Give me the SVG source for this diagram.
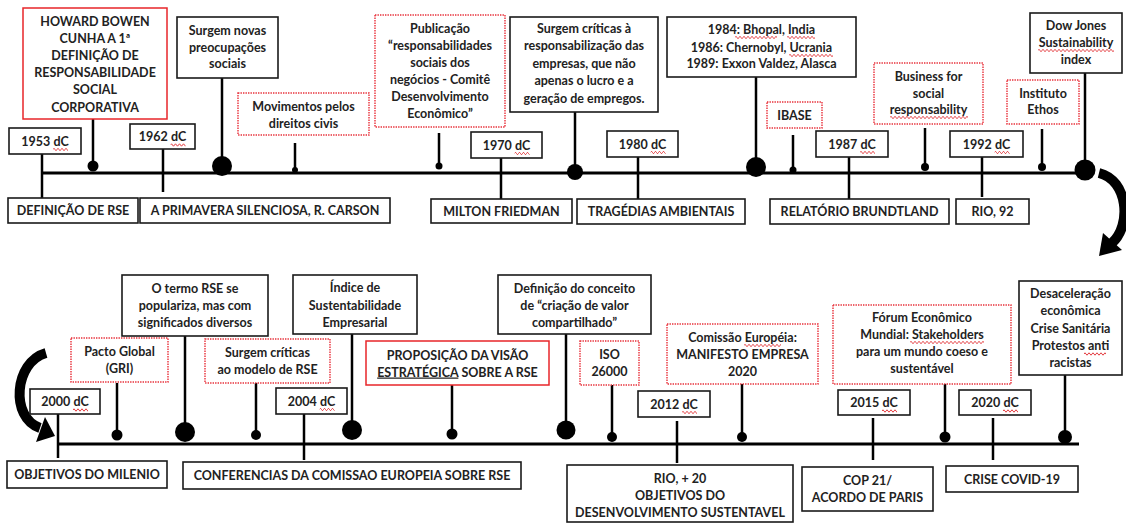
<svg xmlns="http://www.w3.org/2000/svg" xmlns:xlink="http://www.w3.org/1999/xlink" width="1126" height="524" viewBox="0 0 1126 524">
<style>
.b{fill:#fff;stroke:#1a1a1a;stroke-width:1.6}
.r{fill:#fff;stroke:#e8262a;stroke-width:1.5}
.rd{fill:#fff;stroke:#e8303a;stroke-width:1.4;stroke-dasharray:1.4 1.1}
.t{font-family:Lato,"Liberation Sans",sans-serif;font-weight:700;font-size:12.5px;fill:#222;text-anchor:middle}
.u{text-decoration:underline}
.wv{fill:none;stroke:#e0262a;stroke-width:0.9}
.ln{stroke:#000;stroke-width:3;fill:none}
.st{stroke:#000;stroke-width:2.5;fill:none}
.d{fill:#000}
.arc{stroke:#000;stroke-width:10;fill:none}
</style>
<defs>
<path id="wvL" class="wv" d="M0,0 q1,-2.4 2,0 t2,0 t2,0 t2,0 t2,0 t2,0 t2,0 t2,0 t2,0 t2,0 t2,0 t2,0 t2,0 t2,0 t2,0 t2,0 t2,0 t2,0 t2,0 t2,0 t2,0 t2,0 t2,0 t2,0 t2,0 t2,0 t2,0 t2,0 t2,0 t2,0 t2,0 t2,0 t2,0 t2,0 t2,0 t2,0 t2,0 t2,0 t2,0 t2,0 t2,0 t2,0 t2,0 t2,0 t2,0 t2,0 t2,0 t2,0 t2,0 t2,0"/>
</defs>
<g id="connectors">
<line class="ln" x1="42" y1="173" x2="1085" y2="173"/>
<line class="ln" x1="58" y1="444" x2="1079" y2="444"/>
<line class="st" x1="42" y1="154" x2="42" y2="198"/>
<line class="st" x1="93" y1="119" x2="93" y2="166"/><circle class="d" cx="93" cy="166" r="5.5"/>
<line class="st" x1="163" y1="149" x2="163" y2="192"/>
<line class="st" x1="222" y1="78" x2="222" y2="165"/><circle class="d" cx="222" cy="166" r="10"/>
<line class="st" x1="295" y1="143" x2="295" y2="170"/><circle class="d" cx="295" cy="170" r="3"/>
<line class="st" x1="439" y1="133" x2="439" y2="165"/><circle class="d" cx="439" cy="166" r="3.5"/>
<line class="st" x1="501" y1="158" x2="501" y2="199"/>
<line class="st" x1="575" y1="112" x2="575" y2="170"/><circle class="d" cx="575" cy="172" r="8"/>
<line class="st" x1="638" y1="157" x2="638" y2="199"/>
<line class="st" x1="756" y1="77" x2="756" y2="165"/><circle class="d" cx="756" cy="167" r="10"/>
<line class="st" x1="793" y1="135" x2="793" y2="170"/><circle class="d" cx="793" cy="170" r="3.5"/>
<line class="st" x1="849" y1="157" x2="849" y2="199"/>
<line class="st" x1="925" y1="128" x2="925" y2="167"/><circle class="d" cx="925" cy="167" r="4"/>
<line class="st" x1="982" y1="157" x2="982" y2="197"/>
<line class="st" x1="1042" y1="129" x2="1042" y2="167"/><circle class="d" cx="1042" cy="167" r="4"/>
<line class="st" x1="1085" y1="73" x2="1085" y2="165"/><circle class="d" cx="1085" cy="170" r="10.5"/>
<path class="arc" d="M1099,173 C1128,180 1132,225 1112,243"/>
<polygon class="d" points="1099,256 1103,233 1122,250"/>
<path class="arc" d="M46,353 C14,362 10,418 40,428"/>
<polygon class="d" points="55,436 45,417 36,442"/>
<line class="st" x1="58" y1="414" x2="58" y2="458"/>
<line class="st" x1="117" y1="383" x2="117" y2="435"/><circle class="d" cx="117" cy="435" r="5.5"/>
<line class="st" x1="185" y1="336" x2="185" y2="430"/><circle class="d" cx="185" cy="432" r="10"/>
<line class="st" x1="256" y1="383" x2="256" y2="435"/><circle class="d" cx="256" cy="435" r="5"/>
<line class="st" x1="304" y1="414" x2="304" y2="460"/>
<line class="st" x1="352" y1="334" x2="352" y2="428"/><circle class="d" cx="352" cy="430" r="10"/>
<line class="st" x1="452" y1="385" x2="452" y2="434"/><circle class="d" cx="452" cy="434" r="5.5"/>
<line class="st" x1="566" y1="334" x2="566" y2="428"/><circle class="d" cx="566" cy="430" r="9.5"/>
<line class="st" x1="612" y1="385" x2="612" y2="437"/><circle class="d" cx="612" cy="437" r="5"/>
<line class="st" x1="677" y1="421" x2="677" y2="463"/>
<line class="st" x1="742" y1="384" x2="742" y2="437"/><circle class="d" cx="742" cy="437" r="5"/>
<line class="st" x1="873" y1="418" x2="873" y2="460"/>
<line class="st" x1="945" y1="384" x2="945" y2="437"/><circle class="d" cx="945" cy="437" r="5.5"/>
<line class="st" x1="993" y1="418" x2="993" y2="460"/>
<line class="st" x1="1065" y1="375" x2="1065" y2="436"/><circle class="d" cx="1065" cy="437" r="7"/>
</g>
<g id="n1953"><rect class="b" x="9" y="128" width="72" height="26"/><text class="t" x="45" y="145.5">1953 dC</text><svg x="53" y="147" width="15" height="5"><use xlink:href="#wvL" href="#wvL" y="2.5"/></svg></g>
<g id="nDefRSE"><rect class="b" x="8" y="198" width="130" height="25"/><text class="t" x="73" y="215">DEFINIÇÃO DE RSE</text></g>
<g id="nBowen"><rect class="r" x="23" y="8" width="144" height="111"/><text class="t" x="95"><tspan x="95" y="25.5">HOWARD BOWEN</tspan><tspan x="95" y="42.7">CUNHA A 1ª</tspan><tspan x="95" y="59.9">DEFINIÇÃO DE</tspan><tspan x="95" y="77.1">RESPONSABILIDADE</tspan><tspan x="95" y="94.3">SOCIAL</tspan><tspan x="95" y="111.5">CORPORATIVA</tspan></text></g>
<g id="n1962"><rect class="b" x="130" y="124" width="65" height="25"/><text class="t" x="162.5" y="141">1962 dC</text><svg x="170.5" y="142.5" width="15" height="5"><use xlink:href="#wvL" href="#wvL" y="2.5"/></svg></g>
<g id="nPrimavera"><rect class="b" x="140" y="198" width="250" height="25"/><text class="t" x="265" y="215">A PRIMAVERA SILENCIOSA, R. CARSON</text></g>
<g id="nNovas"><rect class="b" x="177" y="17" width="101" height="61"/><text class="t"><tspan x="227.5" y="34.5">Surgem novas</tspan><tspan x="227.5" y="51.5">preocupações</tspan><tspan x="227.5" y="68">sociais</tspan></text></g>
<g id="nMovimentos"><rect class="rd" x="238" y="93" width="131" height="42"/><text class="t"><tspan x="303.5" y="110.5">Movimentos pelos</tspan><tspan x="303.5" y="127.5">direitos civis</tspan></text></g>
<g id="nPublicacao"><rect class="rd" x="375" y="15" width="130" height="112"/><text class="t"><tspan x="440" y="32.5">Publicação</tspan><tspan x="440" y="49.5">“responsabilidades</tspan><tspan x="440" y="67">sociais dos</tspan><tspan x="440" y="84">negócios - Comitê</tspan><tspan x="440" y="101">Desenvolvimento</tspan><tspan x="440" y="117.5">Econômico”</tspan></text></g>
<g id="n1970"><rect class="b" x="471" y="132" width="71" height="26"/><text class="t" x="506.5" y="149.5">1970 dC</text><svg x="514.5" y="151" width="15" height="5"><use xlink:href="#wvL" href="#wvL" y="2.5"/></svg></g>
<g id="nFriedman"><rect class="b" x="431" y="199" width="141" height="24"/><text class="t" x="501.5" y="215.5">MILTON FRIEDMAN</text></g>
<g id="nCriticas"><rect class="b" x="510" y="17" width="148" height="95"/><text class="t"><tspan x="584" y="32.5">Surgem críticas à</tspan><tspan x="584" y="50">responsabilização das</tspan><tspan x="584" y="67.5">empresas, que não</tspan><tspan x="584" y="85">apenas o lucro e a</tspan><tspan x="584" y="102.5">geração de empregos.</tspan></text></g>
<g id="n1980"><rect class="b" x="607" y="131" width="71" height="26"/><text class="t" x="642.5" y="148.5">1980 dC</text><svg x="650.5" y="150" width="15" height="5"><use xlink:href="#wvL" href="#wvL" y="2.5"/></svg></g>
<g id="nTragedias"><rect class="b" x="577" y="199" width="168" height="25"/><text class="t" x="661" y="216">TRAGÉDIAS AMBIENTAIS</text></g>
<g id="n1984"><rect class="b" x="667" y="17" width="189" height="60"/><text class="t"><tspan x="761.5" y="33.5">1984: Bhopal, India</tspan><tspan x="761.5" y="51.5">1986: Chernobyl, Ucrania</tspan><tspan x="761.5" y="67.5">1989: Exxon Valdez, Alasca</tspan></text><svg x="735" y="35" width="42" height="5"><use xlink:href="#wvL" href="#wvL" y="2.5"/></svg><svg x="787" y="35" width="28" height="5"><use xlink:href="#wvL" href="#wvL" y="2.5"/></svg><svg x="789" y="53" width="44" height="5"><use xlink:href="#wvL" href="#wvL" y="2.5"/></svg></g>
<g id="nIbase"><rect class="rd" x="767" y="102" width="55" height="26"/><text class="t" x="794.5" y="119.5">IBASE</text></g>
<g id="n1987"><rect class="b" x="816" y="131" width="72" height="26"/><text class="t" x="852" y="148.5">1987 dC</text><svg x="860" y="150" width="15" height="5"><use xlink:href="#wvL" href="#wvL" y="2.5"/></svg></g>
<g id="nBrundtland"><rect class="b" x="770" y="199" width="179" height="25"/><text class="t" x="859.5" y="216">RELATÓRIO BRUNDTLAND</text></g>
<g id="nBusiness"><rect class="rd" x="874" y="63" width="109" height="61"/><text class="t"><tspan x="928.5" y="80.5">Business for</tspan><tspan x="928.5" y="97.5">social</tspan><tspan x="928.5" y="113.5">responsability</tspan></text><svg x="890" y="115" width="78" height="5"><use xlink:href="#wvL" href="#wvL" y="2.5"/></svg></g>
<g id="n1992"><rect class="b" x="950" y="131" width="73" height="26"/><text class="t" x="986.5" y="148.5">1992 dC</text><svg x="994.5" y="150" width="15" height="5"><use xlink:href="#wvL" href="#wvL" y="2.5"/></svg></g>
<g id="nRio92"><rect class="b" x="956" y="199" width="73" height="25"/><text class="t" x="992.5" y="216">RIO, 92</text></g>
<g id="nEthos"><rect class="rd" x="1007" y="80" width="72" height="44"/><text class="t"><tspan x="1043" y="97.5">Instituto</tspan><tspan x="1043" y="113.5">Ethos</tspan></text></g>
<g id="nDowJones"><rect class="b" x="1030" y="13" width="92" height="60"/><text class="t"><tspan x="1076" y="29.5">Dow Jones</tspan><tspan x="1076" y="46.5">Sustainability</tspan><tspan x="1076" y="64">index</tspan></text><svg x="1038" y="48" width="76" height="5"><use xlink:href="#wvL" href="#wvL" y="2.5"/></svg></g>
<g id="n2000"><rect class="b" x="30" y="389" width="70" height="25"/><text class="t" x="65" y="406">2000 dC</text><svg x="73" y="407.5" width="15" height="5"><use xlink:href="#wvL" href="#wvL" y="2.5"/></svg></g>
<g id="nMilenio"><rect class="b" x="7" y="461" width="160" height="27"/><text class="t" x="87" y="479">OBJETIVOS DO MILENIO</text></g>
<g id="nPacto"><rect class="rd" x="71" y="338" width="97" height="44"/><text class="t"><tspan x="119.5" y="355.5">Pacto Global</tspan><tspan x="119.5" y="372.5">(GRI)</tspan></text></g>
<g id="nTermo"><rect class="b" x="122" y="275" width="146" height="61"/><text class="t"><tspan x="195" y="292.5">O termo RSE se</tspan><tspan x="195" y="309.5">populariza, mas com</tspan><tspan x="195" y="326.5">significados diversos</tspan></text></g>
<g id="nCriticasRSE"><rect class="rd" x="205" y="339" width="125" height="44"/><text class="t"><tspan x="267.5" y="356.5">Surgem críticas</tspan><tspan x="267.5" y="373.5">ao modelo de RSE</tspan></text></g>
<g id="n2004"><rect class="b" x="276" y="388" width="71" height="26"/><text class="t" x="311.5" y="405.5">2004 dC</text><svg x="319.5" y="407" width="15" height="5"><use xlink:href="#wvL" href="#wvL" y="2.5"/></svg></g>
<g id="nConferencias"><rect class="b" x="183" y="462" width="338" height="27"/><text class="t" x="352" y="480">CONFERENCIAS DA COMISSAO EUROPEIA SOBRE RSE</text></g>
<g id="nIndice"><rect class="b" x="293" y="275" width="124" height="59"/><text class="t"><tspan x="355" y="291.5">Índice de</tspan><tspan x="355" y="309.5">Sustentabilidade</tspan><tspan x="355" y="326.5">Empresarial</tspan></text></g>
<g id="nProposicao"><rect class="r" x="366" y="341" width="183" height="44"/><text class="t"><tspan x="457.5" y="359.5">PROPOSIÇÃO DA VISÃO</tspan><tspan x="457.5" y="376.5"><tspan class="u">ESTRATÉGICA</tspan> SOBRE A RSE</tspan></text></g>
<g id="nDefinicao"><rect class="b" x="498" y="275" width="153" height="59"/><text class="t"><tspan x="574.5" y="292.5">Definição do conceito</tspan><tspan x="574.5" y="309.5">de “criação de valor</tspan><tspan x="574.5" y="326.5">compartilhado”</tspan></text></g>
<g id="nIso"><rect class="rd" x="580" y="341" width="59" height="44"/><text class="t"><tspan x="609.5" y="358.5">ISO</tspan><tspan x="609.5" y="376">26000</tspan></text></g>
<g id="n2012"><rect class="b" x="638" y="391" width="72" height="26"/><text class="t" x="674" y="408.5">2012 dC</text><svg x="682" y="410" width="15" height="5"><use xlink:href="#wvL" href="#wvL" y="2.5"/></svg></g>
<g id="nRio20"><rect class="b" x="567" y="465" width="226" height="57"/><text class="t"><tspan x="680" y="482.5">RIO, + 20</tspan><tspan x="680" y="499.5">OBJETIVOS DO</tspan><tspan x="680" y="516.5">DESENVOLVIMENTO SUSTENTAVEL</tspan></text></g>
<g id="nComissao"><rect class="rd" x="667" y="324" width="151" height="60"/><text class="t"><tspan x="742.5" y="341.5">Comissão Européia:</tspan><tspan x="742.5" y="358.5">MANIFESTO EMPRESA</tspan><tspan x="742.5" y="375.5">2020</tspan></text><svg x="744" y="343" width="37" height="5"><use xlink:href="#wvL" href="#wvL" y="2.5"/></svg></g>
<g id="nForum"><rect class="rd" x="833" y="305" width="178" height="79"/><text class="t"><tspan x="922" y="321.5">Fórum Econômico</tspan><tspan x="922" y="338.5">Mundial: Stakeholders</tspan><tspan x="922" y="356">para um mundo coeso e</tspan><tspan x="922" y="372.5">sustentável</tspan></text><svg x="910" y="340" width="74" height="5"><use xlink:href="#wvL" href="#wvL" y="2.5"/></svg></g>
<g id="n2015"><rect class="b" x="838" y="390" width="72" height="25"/><text class="t" x="874" y="407">2015 dC</text><svg x="882" y="408.5" width="15" height="5"><use xlink:href="#wvL" href="#wvL" y="2.5"/></svg></g>
<g id="nCop21"><rect class="b" x="802" y="467" width="131" height="44"/><text class="t"><tspan x="867.5" y="484.5">COP 21/</tspan><tspan x="867.5" y="501.5">ACORDO DE PARIS</tspan></text></g>
<g id="n2020"><rect class="b" x="959" y="390" width="72" height="25"/><text class="t" x="995" y="407">2020 dC</text><svg x="1003" y="408.5" width="15" height="5"><use xlink:href="#wvL" href="#wvL" y="2.5"/></svg></g>
<g id="nCovid"><rect class="b" x="946" y="466" width="132" height="26"/><text class="t" x="1012" y="483.5">CRISE COVID-19</text></g>
<g id="nDesaceleracao"><rect class="b" x="1019" y="281" width="103" height="94"/><text class="t"><tspan x="1070.5" y="297.5">Desaceleração</tspan><tspan x="1070.5" y="315">econômica</tspan><tspan x="1070.5" y="332.5">Crise Sanitária</tspan><tspan x="1070.5" y="350">Protestos anti</tspan><tspan x="1070.5" y="366.5">racistas</tspan></text><svg x="1084" y="351.5" width="22" height="5"><use xlink:href="#wvL" href="#wvL" y="2.5"/></svg></g>
</svg>
